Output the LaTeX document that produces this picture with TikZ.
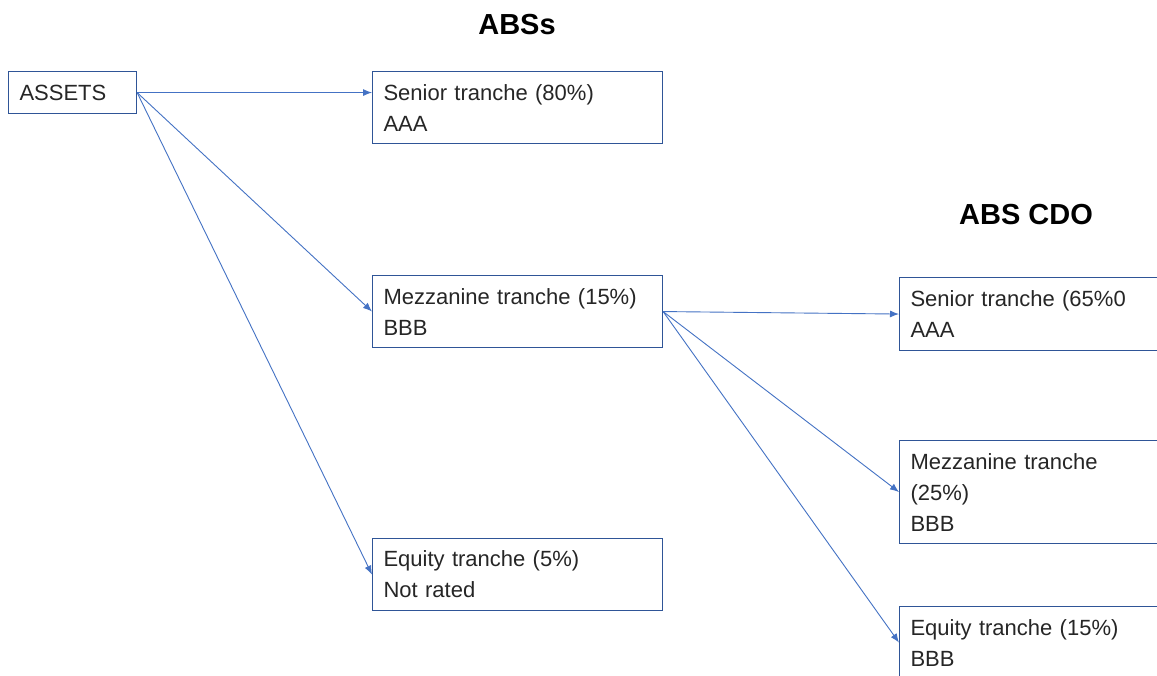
\documentclass[tikz,border=0pt]{standalone}
\usepackage{fontspec}
\setmainfont{Liberation Sans}
\usetikzlibrary{arrows.meta}
\definecolor{boxc}{HTML}{2F5597}
\definecolor{arrc}{HTML}{4472C4}
\tikzset{
  tbox/.style={draw=boxc, line width=1.1pt, inner xsep=11pt, inner ysep=0pt, align=left,
    anchor=north west, font=\fontsize{22}{31}\selectfont, text=black!85},
  conn/.style={draw=arrc, line width=0.9pt, -{Latex[length=9pt,width=7pt]}},
  ttl/.style={font=\fontsize{29}{32}\selectfont\bfseries, text=black}
}
\begin{document}
\begin{tikzpicture}[x=1pt,y=-1pt]
\useasboundingbox (0,0) rectangle (1157,675);
\clip (0,0) rectangle (1157,675);
\fill[white] (0,0) rectangle (1157,675);
\node[ttl] (t1) at (517,25) {ABSs};
\node[ttl] (t2) at (1026,215) {ABS CDO};
\node[tbox, text width=106pt, minimum height=42pt] (assets) at (8,71) {ASSETS};
\node[tbox, text width=268pt, minimum height=72pt] (s1) at (372,71) {Senior tranche (80\%)\\AAA};
\node[tbox, text width=268pt, minimum height=72pt] (m1) at (372,275) {Mezzanine tranche (15\%)\\BBB};
\node[tbox, text width=268pt, minimum height=72pt] (e1) at (372,538) {Equity tranche (5\%)\\Not rated};
\node[tbox, text width=280pt, minimum height=73pt] (s2) at (899,277) {Senior tranche (65\%0\\AAA};
\node[tbox, text width=280pt, minimum height=103pt] (m2) at (899,440) {Mezzanine tranche\\(25\%)\\BBB};
\node[tbox, text width=280pt, minimum height=72pt] (e2) at (899,606) {Equity tranche (15\%)\\BBB};
\draw[conn] (assets.east) -- (assets.east -| s1.west);
\draw[conn] (assets.east) -- (m1.west);
\draw[conn] (assets.east) -- (e1.west);
\draw[conn] (m1.east) -- (s2.west);
\draw[conn] (m1.east) -- (m2.west);
\draw[conn] (m1.east) -- (e2.west);
\end{tikzpicture}
\end{document}
